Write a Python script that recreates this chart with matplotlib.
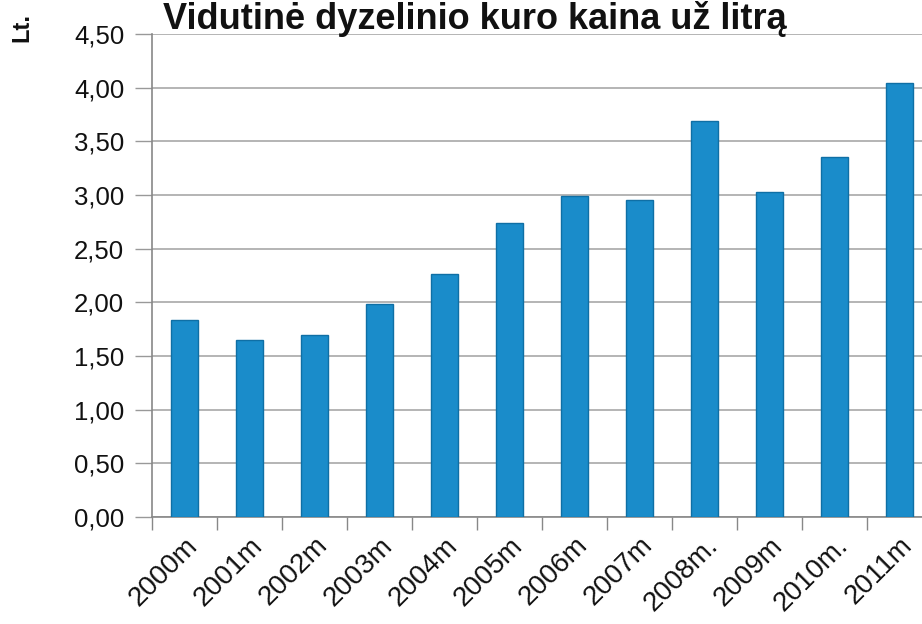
import matplotlib
matplotlib.use("Agg")
import matplotlib.pyplot as plt
import numpy as np

years = ["2000m", "2001m", "2002m", "2003m", "2004m", "2005m",
         "2006m", "2007m", "2008m.", "2009m", "2010m.", "2011m"]
prices = [1.84, 1.65, 1.70, 1.98, 2.26, 2.74, 2.99, 2.95, 3.69, 3.03, 3.35, 4.04]
y_ticks = [0.0, 0.5, 1.0, 1.5, 2.0, 2.5, 3.0, 3.5, 4.0, 4.5]

plt.rcParams["font.family"] = ["Liberation Sans", "DejaVu Sans"]

fig = plt.figure(figsize=(9.22, 6.24), dpi=100)
fig.patch.set_facecolor("white")
ax = fig.add_axes([152 / 922, 107 / 624, 780 / 922, 483 / 624])

x = np.arange(len(years))
ax.bar(x, prices, width=0.42, color="#1a8cca", edgecolor="#0f6fa5", linewidth=1.0, zorder=3)

ax.set_xlim(-0.5, len(years) - 0.5)
ax.set_ylim(0, 4.5)
ax.set_yticks(y_ticks)
ax.set_yticklabels([f"{v:.2f}".replace(".", ",") for v in y_ticks], fontsize=18.5, color="#111111")
ax.yaxis.grid(True, color="#a0a0a0", linewidth=1.1, zorder=0)

ax.set_xticks(x)
ax.set_xticklabels(years, fontsize=20, rotation=45, ha="right", rotation_mode="anchor", color="#111111")
ax.set_xticks(np.arange(-0.5, len(years), 1.0), minor=True)
ax.tick_params(axis="x", which="major", length=0, pad=11)
ax.tick_params(axis="x", which="minor", length=9, width=1.0, color="#888888", direction="out")
ax.tick_params(axis="y", length=12, width=1.0, color="#999999", direction="out", pad=8)

for side in ["top", "right"]:
    ax.spines[side].set_visible(False)
for side in ["left", "bottom"]:
    ax.spines[side].set_color("#888888")
    ax.spines[side].set_linewidth(1.2)

# title sits at the very top edge, as in the cropped original
fig.text(475 / 922, 1 - 29 / 624, "Vidutinė dyzelinio kuro kaina už litrą",
         ha="center", va="baseline", fontsize=26, fontweight="bold", color="#111111", zorder=5)
fig.text(22 / 922, 1 - 27 / 624, "Lt.", rotation=90, ha="center", va="center",
         fontsize=17, fontweight="bold", color="#111111")

fig.savefig("out.png", dpi=100, facecolor="white")
